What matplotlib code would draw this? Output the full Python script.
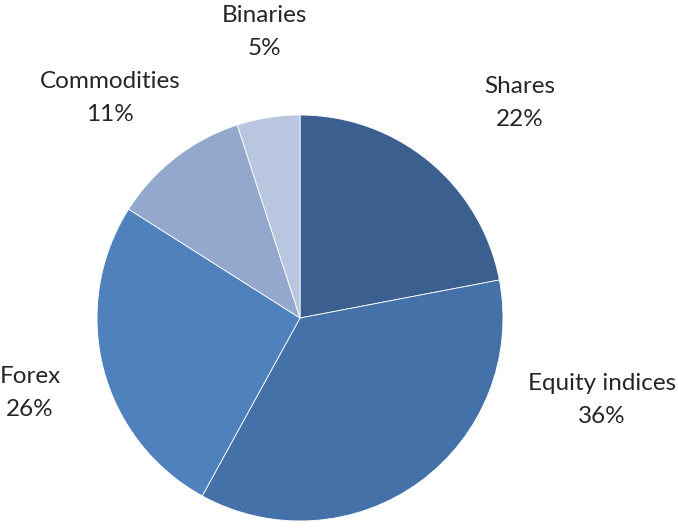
import matplotlib.pyplot as plt

# share of trades by instrument
labels = ['Shares', 'Equity indices', 'Forex', 'Commodities', 'Binaries']
shares = [22, 36, 26, 11, 5]
colors = ['#3B5F8F', '#4571A9', '#4F81BD', '#94A8CE', '#B9C6E0']

W, H = 678, 529
cx, cy, r = 300, 318, 203

fig = plt.figure(figsize=(W / 100, H / 100), dpi=100)
ax = fig.add_axes([0, 0, 1, 1])
ax.pie(shares, colors=colors, startangle=90, counterclock=False,
       radius=1, wedgeprops=dict(edgecolor='white', linewidth=0.6))
ax.set_xlim(-cx / r, (W - cx) / r)
ax.set_ylim(-(H - cy) / r, cy / r)
ax.set_aspect('equal')
ax.axis('off')

# label centres in pixel positions (from top-left)
label_pos = [(520, 103), (602, 400), (30, 393), (110, 98), (264, 32)]
for name, val, (px, py) in zip(labels, shares, label_pos):
    ax.text((px - cx) / r, (cy - py) / r, f'{name}\n{val}%',
            ha='center', va='center', fontsize=17.5, family='Lato',
            color='#262626', linespacing=1.7)

fig.savefig('out.png', dpi=100, facecolor='white')
